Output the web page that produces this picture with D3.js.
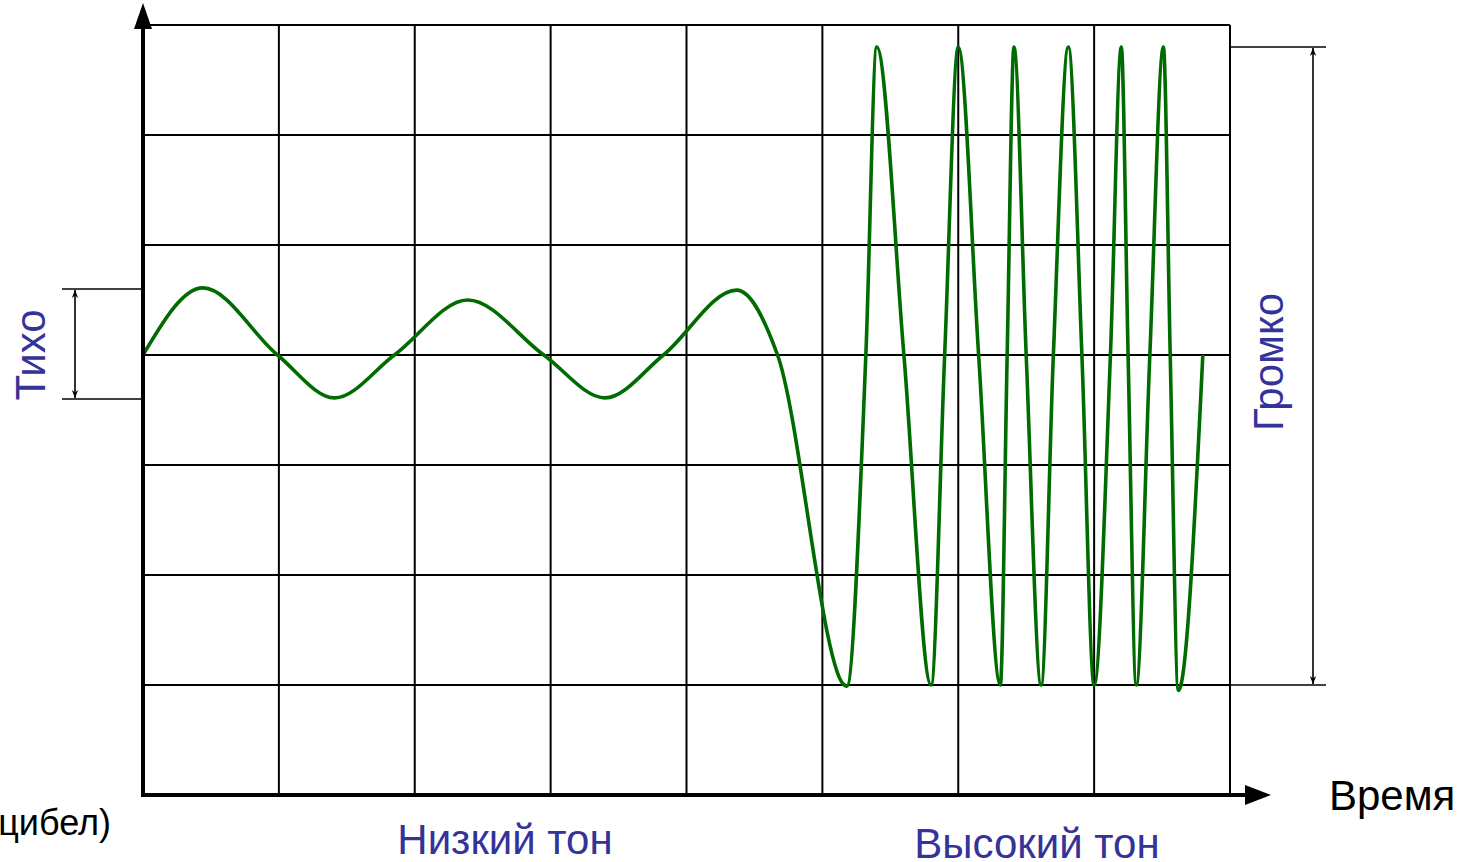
<!DOCTYPE html>
<html>
<head>
<meta charset="utf-8">
<script src="https://cdn.jsdelivr.net/npm/d3@7"></script>
<style>
  body { margin: 0; background: #fff; }
  svg { display: block; font-family: "Liberation Sans", Arial, sans-serif; }
</style>
</head>
<body>
<svg id="chart" width="1470" height="862"></svg>
<script>
const svg = d3.select("#chart");

// ключевые точки волны (время в клетках, амплитуда в клетках)
const waveT = [0, 0.44, 0.99, 1.41, 1.85, 2.39, 2.95, 3.40, 3.83, 4.37, 4.67,
  5.18, 5.32, 5.40, 5.60, 5.80, 5.90, 6.00, 6.15, 6.31, 6.36, 6.41, 6.50,
  6.61, 6.70, 6.81, 6.91, 7.00, 7.12, 7.20, 7.25, 7.31, 7.41, 7.51, 7.56, 7.62, 7.80];
const waveA = [0, 0.61, 0, -0.39, 0, 0.50, 0, -0.39, 0, 0.59, 0,
  -3.01, 0, 2.80, 0, -3.0, 0, 2.80, 0, -3.0, 0, 2.80, 0,
  -3.0, 0, 2.80, 0, -3.0, 0, 2.80, 0, -3.0, 0, 2.80, 0, -3.05, 0];

const gridX = [1, 2, 3, 4, 5, 6, 7, 8];
const gridY = [-3, -2, -1, 0, 1, 2, 3];

const quietRange = [0.6, -0.4];
const loudRange = [2.8, -3.0];

const labels = {
  time: "Время",
  db: "(Децибел)",
  low: "Низкий тон",
  high: "Высокий тон",
  quiet: "Тихо",
  loud: "Громко"
};

const x = d3.scaleLinear().domain([0, 8]).range([143, 1230]);
const y = d3.scaleLinear().domain([-4, 3]).range([795, 25]);

const blue = "#333399";

// сетка
const grid = svg.append("g").attr("stroke", "#000").attr("stroke-width", 2);
grid.selectAll(".vx").data(gridX).enter().append("line")
  .attr("x1", d => x(d)).attr("x2", d => x(d))
  .attr("y1", y(3)).attr("y2", y(-4));
grid.selectAll(".hy").data(gridY).enter().append("line")
  .attr("x1", x(0)).attr("x2", x(8))
  .attr("y1", d => y(d)).attr("y2", d => y(d));

// волна
const line = d3.line()
  .x((d, i) => x(waveT[i]))
  .y(d => y(d))
  .curve(d3.curveMonotoneX);

svg.append("path")
  .datum(waveA)
  .attr("fill", "none")
  .attr("stroke", "#006b00")
  .attr("stroke-width", 3.6)
  .attr("stroke-linejoin", "round")
  .attr("d", line);

// оси
svg.append("line")
  .attr("x1", x(0)).attr("x2", x(0))
  .attr("y1", y(-4) + 2).attr("y2", 22)
  .attr("stroke", "#000").attr("stroke-width", 4);
svg.append("path")
  .attr("d", `M${x(0)},3 L${x(0) + 9},29 L${x(0) - 9},29 Z`)
  .attr("fill", "#000");

svg.append("line")
  .attr("x1", x(0) - 2).attr("x2", 1250)
  .attr("y1", y(-4)).attr("y2", y(-4))
  .attr("stroke", "#000").attr("stroke-width", 4);
svg.append("path")
  .attr("d", `M1271,${y(-4)} L1245,${y(-4) - 10} L1245,${y(-4) + 10} Z`)
  .attr("fill", "#000");

// размерные стрелки
const defs = svg.append("defs");
defs.append("marker")
  .attr("id", "arr")
  .attr("viewBox", "0 0 10 10")
  .attr("refX", 10).attr("refY", 5)
  .attr("markerWidth", 8).attr("markerHeight", 8)
  .attr("markerUnits", "userSpaceOnUse")
  .attr("orient", "auto-start-reverse")
  .append("path")
  .attr("d", "M0,1 L10,5 L0,9 L3,5 Z")
  .attr("fill", "#000");

function dimension(range, x1, x2, xa) {
  const g = svg.append("g").attr("stroke", "#000");
  range.forEach(v => {
    g.append("line")
      .attr("x1", x1).attr("x2", x2)
      .attr("y1", y(v)).attr("y2", y(v))
      .attr("stroke-width", 1.6);
  });
  g.append("line")
    .attr("x1", xa).attr("x2", xa)
    .attr("y1", y(range[0]) + 1).attr("y2", y(range[1]) - 1)
    .attr("stroke-width", 1.6)
    .attr("marker-start", "url(#arr)")
    .attr("marker-end", "url(#arr)");
}
dimension(quietRange, 62, x(0), 75);
dimension(loudRange, x(8), 1326, 1313);

// подписи
svg.append("text")
  .attr("x", 1329).attr("y", 810)
  .attr("font-size", 42)
  .attr("fill", "#000")
  .text(labels.time);

svg.append("text")
  .attr("x", 111).attr("y", 835)
  .attr("text-anchor", "end")
  .attr("font-size", 36)
  .attr("fill", "#000")
  .text(labels.db);

svg.append("text")
  .attr("x", 505).attr("y", 854)
  .attr("text-anchor", "middle")
  .attr("font-size", 42)
  .attr("fill", blue)
  .text(labels.low);

svg.append("text")
  .attr("x", 1037).attr("y", 858)
  .attr("text-anchor", "middle")
  .attr("font-size", 42)
  .attr("fill", blue)
  .text(labels.high);

svg.append("text")
  .attr("transform", `translate(45,${y(0)}) rotate(-90)`)
  .attr("text-anchor", "middle")
  .attr("font-size", 42)
  .attr("fill", blue)
  .text(labels.quiet);

svg.append("text")
  .attr("transform", `translate(1283,362) rotate(-90)`)
  .attr("text-anchor", "middle")
  .attr("font-size", 42)
  .attr("fill", blue)
  .text(labels.loud);
</script>
</body>
</html>
